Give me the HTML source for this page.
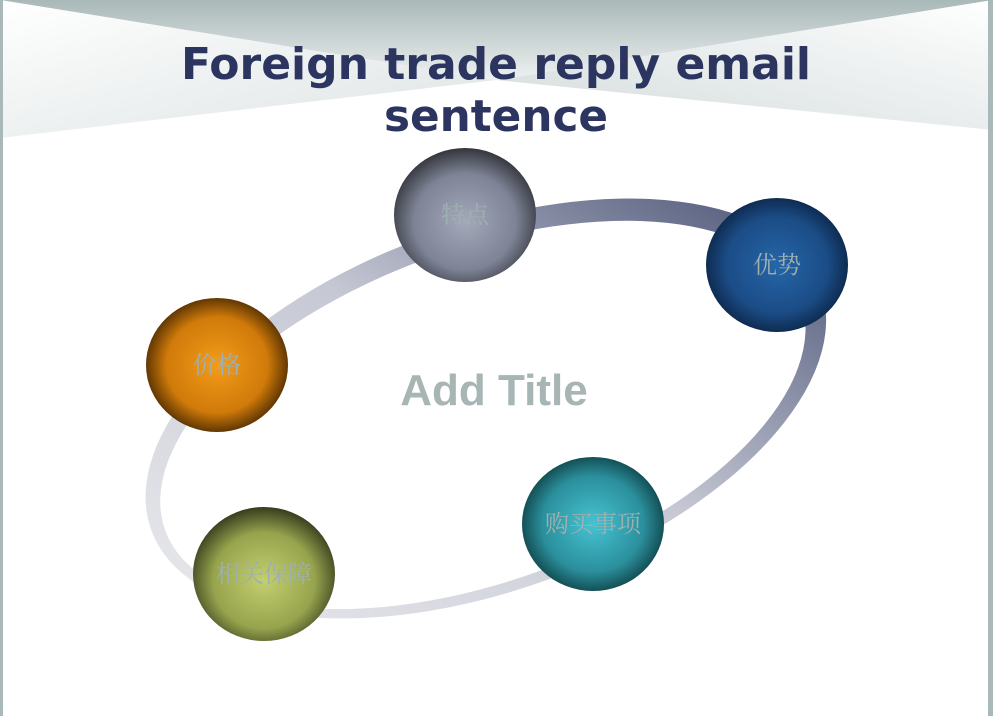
<!DOCTYPE html>
<html><head><meta charset="utf-8"><style>
html,body{margin:0;padding:0;background:#fff;}
body{width:993px;height:716px;position:relative;overflow:hidden;}
svg{position:absolute;left:0;top:0;}
</style></head><body>
<svg width="993" height="716" viewBox="0 0 993 716" xmlns="http://www.w3.org/2000/svg">
<defs>
<linearGradient id="top" x1="0" y1="0" x2="0" y2="1"><stop offset="0" stop-color="#a9b8b8"/><stop offset="1" stop-color="#eef1f1"/></linearGradient>
<linearGradient id="lt" x1="0" y1="0" x2="1" y2="1"><stop offset="0" stop-color="#ffffff"/><stop offset="1" stop-color="#dde3e3"/></linearGradient>
<linearGradient id="rt" x1="1" y1="0" x2="0" y2="1"><stop offset="0" stop-color="#ffffff"/><stop offset="1" stop-color="#d3dbdb"/></linearGradient>
<linearGradient id="ring" gradientUnits="userSpaceOnUse" x1="250" y1="600" x2="760" y2="210"><stop offset="0" stop-color="#e4e5e9"/><stop offset="0.5" stop-color="#c6c8d4"/><stop offset="1" stop-color="#4e5879"/></linearGradient>
<radialGradient id="g1" cx="0.5" cy="0.55" r="0.55"><stop offset="0" stop-color="#a3a9b9"/><stop offset="0.65" stop-color="#7e8496"/><stop offset="1" stop-color="#34363d"/></radialGradient>
<radialGradient id="g2" cx="0.5" cy="0.5" r="0.55"><stop offset="0" stop-color="#2566a8"/><stop offset="0.65" stop-color="#1b4c86"/><stop offset="1" stop-color="#0a2140"/></radialGradient>
<radialGradient id="g3" cx="0.5" cy="0.5" r="0.55"><stop offset="0" stop-color="#f39c1a"/><stop offset="0.65" stop-color="#d07a0a"/><stop offset="1" stop-color="#3a2000"/></radialGradient>
<radialGradient id="g4" cx="0.5" cy="0.5" r="0.55"><stop offset="0" stop-color="#46c3d2"/><stop offset="0.65" stop-color="#2b8f9c"/><stop offset="1" stop-color="#0c3a3e"/></radialGradient>
<radialGradient id="g5" cx="0.5" cy="0.55" r="0.55"><stop offset="0" stop-color="#c3cf6e"/><stop offset="0.65" stop-color="#97a44d"/><stop offset="1" stop-color="#363c1e"/></radialGradient>
</defs>
<polygon points="0,0 993,0 496,80" fill="url(#top)"/>
<polygon points="0,0 496,80 0,138" fill="url(#lt)"/>
<polygon points="993,0 496,80 993,130" fill="url(#rt)"/>
<rect x="0" y="0" width="3" height="716" fill="#a9b8b8"/>
<rect x="988" y="0" width="5" height="716" fill="#a9b8b8"/>
<g transform="rotate(-20 485 412)">
<path fill-rule="evenodd" fill="url(#ring)" d="M131,409 a356,182 0 1,0 712,0 a356,182 0 1,0 -712,0 Z M144,414 a338,166 0 1,0 676,0 a338,166 0 1,0 -676,0 Z"/>
</g>
<text x="496" y="79" text-anchor="middle" font-family="'DejaVu Sans',sans-serif" font-weight="bold" font-size="44" fill="#2b3560" textLength="630" lengthAdjust="spacingAndGlyphs">Foreign trade reply email</text>
<text x="496" y="131" text-anchor="middle" font-family="'DejaVu Sans',sans-serif" font-weight="bold" font-size="44" fill="#2b3560" textLength="224" lengthAdjust="spacingAndGlyphs">sentence</text>
<text x="494" y="405" text-anchor="middle" font-family="'Liberation Sans',sans-serif" font-weight="bold" font-size="44" fill="#a7b5b5">Add Title</text>
<g font-family="'Noto Serif CJK SC',serif" font-size="24" fill="#9fb0b0" text-anchor="middle">
<ellipse cx="465" cy="215" rx="71" ry="67" fill="url(#g1)"/><text x="465" y="223">特点</text>
<ellipse cx="777" cy="265" rx="71" ry="67" fill="url(#g2)"/><text x="777" y="273">优势</text>
<ellipse cx="217" cy="365" rx="71" ry="67" fill="url(#g3)"/><text x="217" y="373">价格</text>
<ellipse cx="593" cy="524" rx="71" ry="67" fill="url(#g4)"/><text x="593" y="532">购买事项</text>
<ellipse cx="264" cy="574" rx="71" ry="67" fill="url(#g5)"/><text x="264" y="582">相关保障</text>
</g>
</svg>
</body></html>
